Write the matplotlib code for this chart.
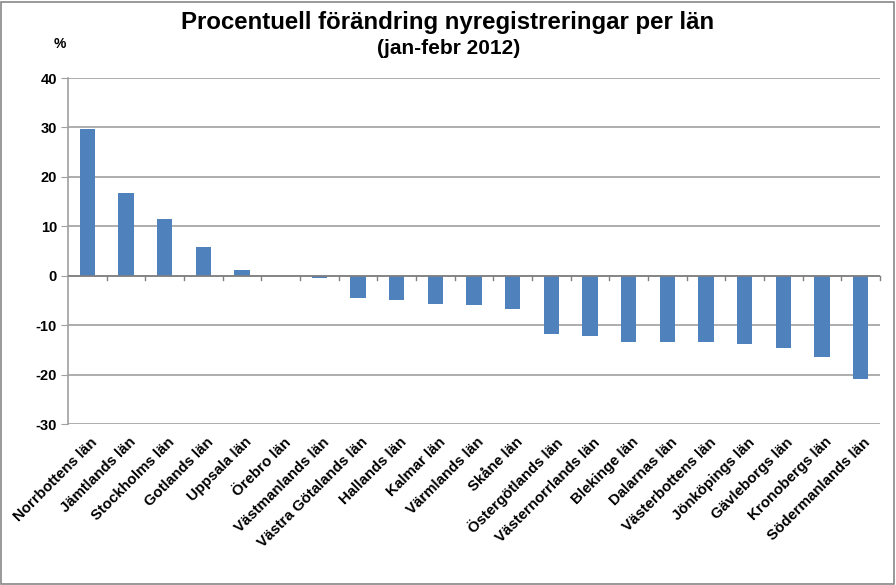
import matplotlib
matplotlib.use("Agg")
import matplotlib.pyplot as plt
import numpy as np
from matplotlib.patches import Rectangle

plt.rcParams['font.family'] = ['Liberation Sans', 'DejaVu Sans']

categories = ["Norrbottens län", "Jämtlands län", "Stockholms län", "Gotlands län",
              "Uppsala län", "Örebro län", "Västmanlands län", "Västra Götalands län",
              "Hallands län", "Kalmar län", "Värmlands län", "Skåne län",
              "Östergötlands län", "Västernorrlands län", "Blekinge län", "Dalarnas län",
              "Västerbottens län", "Jönköpings län", "Gävleborgs län", "Kronobergs län",
              "Södermanlands län"]
values = [29.6, 16.8, 11.5, 5.9, 1.2, 0.0, -0.5, -4.6, -5.0, -5.8, -6.0, -6.8,
          -11.7, -12.2, -13.4, -13.5, -13.5, -13.9, -14.7, -16.4, -20.9]
yticks = [40, 30, 20, 10, 0, -10, -20, -30]

W, H = 896, 585
fig = plt.figure(figsize=(W / 100, H / 100), dpi=100)
ax = fig.add_axes([68 / W, 1 - 424 / H, (880 - 68) / W, (424 - 78) / H])

x = np.arange(len(categories))
ax.bar(x, values, width=0.4, color='#4F81BD', zorder=3)

ax.set_xlim(-0.5, len(categories) - 0.5)
ax.set_ylim(-30, 40)
ax.set_yticks(yticks)
ax.set_yticklabels([str(v) for v in yticks], fontsize=10.5, fontweight='bold')
for v in yticks:
    ax.axhline(v, color='#A0A0A0', lw=1.2, zorder=1)
ax.axhline(0, color='#808080', lw=1.2, zorder=4)

for s in ['top', 'right', 'bottom']:
    ax.spines[s].set_visible(False)
ax.spines['left'].set_color('#A0A0A0')
ax.spines['left'].set_linewidth(1.2)
ax.tick_params(axis='y', length=5, color='#A0A0A0', pad=3)

ax.set_xticks([])
# category boundary ticks on zero line
for b in np.arange(0.5, len(categories), 1.0):
    ax.plot([b, b], [0, -0.8], color='#808080', lw=1, zorder=4, clip_on=False)

for xi, lab in zip(x, categories):
    ax.annotate(lab, xy=(xi, -30), xycoords='data', xytext=(2, -8),
                textcoords='offset points', rotation=45, ha='right', va='top',
                rotation_mode='anchor', fontsize=10.8, fontweight='bold')

fig.text(448 / W, 1 - 23 / H, "Procentuell förändring nyregistreringar per län",
         ha='center', va='center', fontsize=17.3, fontweight='bold')
fig.text(449 / W, 1 - 49 / H, "(jan-febr 2012)", ha='center', va='center',
         fontsize=15, fontweight='bold')
fig.text(60 / W, 1 - 44 / H, "%", ha='center', va='center', fontsize=10, fontweight='bold')

fig.patches.append(Rectangle((1 / W, 1 / H), (W - 3) / W, (H - 3) / H,
                             transform=fig.transFigure, fill=False,
                             edgecolor='#888888', lw=1.2))

fig.savefig("out.png", dpi=100)
